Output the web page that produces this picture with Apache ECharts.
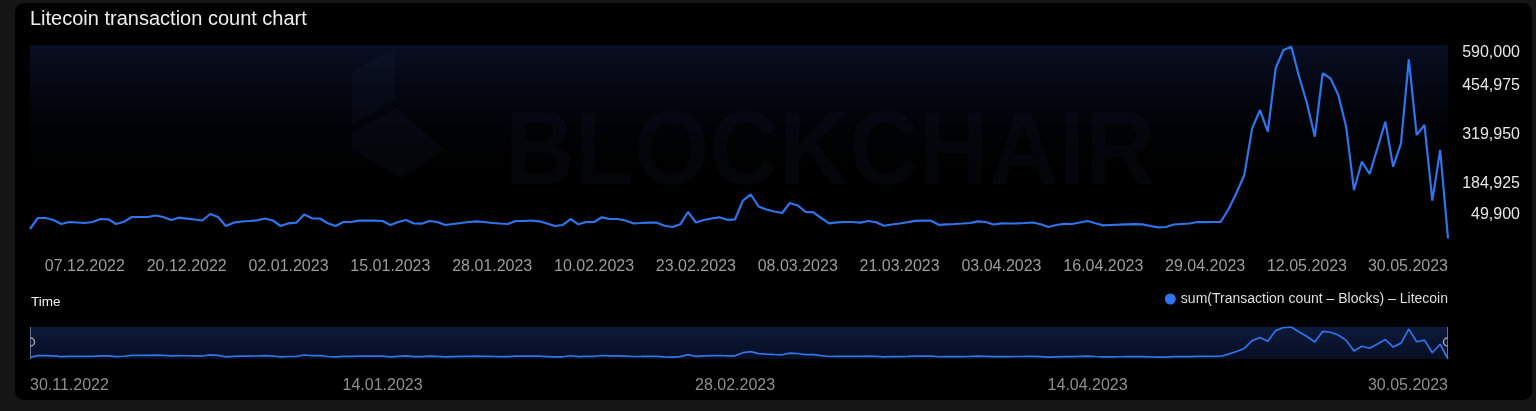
<!DOCTYPE html>
<html>
<head>
<meta charset="utf-8">
<script src="https://cdn.jsdelivr.net/npm/echarts@6.0.0/dist/echarts.min.js"></script>
<style>
html,body{margin:0;padding:0;background:#151515;width:1536px;height:411px;overflow:hidden}
#panel{position:absolute;left:15px;top:3px;width:1517px;height:397px;background:#000;border-radius:9px}
#chart{position:absolute;left:0;top:0;width:1536px;height:411px}
</style>
</head>
<body>
<div id="panel"></div>
<div id="chart"></div>
<script>
// ---- data ----
const startDate = '2022-11-30'; // first category (daily)
const seriesName = 'sum(Transaction count \u2013 Blocks) \u2013 Litecoin';
const txCounts = [
  58200, 88700, 88700, 83100, 72100, 77600, 76200, 74800, 77600, 85900,
  85100, 72100, 78400, 91400, 91400, 91400, 95600, 91400, 83100, 89500,
  86700, 84500, 81800, 99800, 91400, 66500, 75700, 79000, 80400, 82300,
  87300, 81800, 66500, 74000, 75700, 98400, 87800, 87300, 74000, 66500,
  77600, 77600, 81200, 81200, 81200, 80400, 69300, 77600, 83100, 73400,
  72900, 80400, 77600, 69300, 72100, 74800, 77600, 79500, 77600, 74800,
  73400, 72100, 80400, 80400, 81800, 79500, 73400, 66500, 69300, 85900,
  71200, 77600, 77600, 90600, 85900, 85900, 81800, 74000, 74800, 75700,
  75700, 67300, 63700, 71200, 105300, 76200, 83100, 87300, 90600, 83700,
  85100, 137100, 153800, 120500, 112200, 106700, 102500, 130200, 123300, 105800,
  104500, 88700, 74000, 76800, 77600, 77600, 75700, 80400, 76800, 67300,
  70700, 73400, 76800, 80600, 81200, 81200, 69800, 71200, 72100, 73400,
  74800, 79500, 77600, 70700, 74000, 73400, 74000, 74800, 76200, 71500,
  63700, 69300, 72600, 72100, 76200, 80400, 74000, 68200, 69300, 70100,
  71200, 71800, 71200, 66500, 62600, 63700, 70700, 72100, 73400, 77600,
  77000, 77600, 78200, 113600, 157900, 207800, 337100, 387800, 327700, 503300,
  554000, 563100, 480000, 406400, 313900, 489500, 475600, 429300, 341500, 166200,
  244600, 210500, 282600, 355400, 230800, 295600, 528200, 318600, 346300, 136600,
  277000, 32500
];
const yTicks = [49900, 184925, 319950, 454975, 590000];
const yTickLabels = ['49,900', '184,925', '319,950', '454,975', '590,000'];

// categories: one per day starting at startDate
function pad(n){return (n<10?'0':'')+n;}
const categories = [];
(function(){
  const d0 = new Date(startDate + 'T00:00:00Z');
  for (let i = 0; i < txCounts.length; i++) {
    const d = new Date(d0.getTime() + i * 86400000);
    categories.push(pad(d.getUTCDate()) + '.' + pad(d.getUTCMonth() + 1) + '.' + d.getUTCFullYear());
  }
})();

// ---- chart ----
const FONT = '"Liberation Sans", Arial, Helvetica, sans-serif';
const LINE = '#3074ec';
const last = txCounts.length - 1;
const chart = echarts.init(document.getElementById('chart'), null, {renderer: 'canvas'});

const option = {
  animation: false,
  backgroundColor: 'transparent',
  textStyle: {fontFamily: FONT},
  title: [
    {text: 'Litecoin transaction count chart', left: 30, top: 9, padding: 0,
     textStyle: {color: '#eeeeee', fontSize: 20, fontWeight: 'normal', fontFamily: FONT}},
    {text: 'Time', left: 31, top: 295, padding: 0,
     textStyle: {color: '#f2f2f2', fontSize: 13.5, fontWeight: 'normal', fontFamily: FONT}}
  ],
  legend: {
    right: 88, top: 292, padding: 0, icon: 'circle', itemWidth: 11, itemHeight: 11,
    data: [seriesName],
    textStyle: {color: '#dedede', fontSize: 14, fontFamily: FONT}
  },
  grid: [
    {left: 30, right: 88, top: 37, height: 195, containLabel: false, outerBoundsMode: 'none'},
    {left: 30, right: 88, top: 327, height: 32, containLabel: false, outerBoundsMode: 'none',
     show: true, borderWidth: 0,
     backgroundColor: new echarts.graphic.LinearGradient(0, 0, 0, 1, [
       {offset: 0, color: '#0d1a3b'}, {offset: 1, color: '#070e22'}])}
  ],
  xAxis: [
    {
      type: 'category', gridIndex: 0, data: categories, boundaryGap: false,
      axisLine: {show: false}, axisTick: {show: false}, splitLine: {show: false},
      axisLabel: {
        color: '#9c9c9c', fontSize: 16, fontFamily: FONT, margin: 27,
        interval: function (idx) { return (idx % 13 === 7 && idx <= last - 13) || idx === last; },
        alignMaxLabel: 'right'
      }
    },
    {
      type: 'category', gridIndex: 1, data: categories, boundaryGap: false,
      axisLine: {show: false}, axisTick: {show: false}, splitLine: {show: false},
      axisLabel: {
        color: '#8e8e8e', fontSize: 16, fontFamily: FONT, margin: 19,
        interval: function (idx) { return (idx % 45 === 0 && idx <= last - 45) || idx === last; },
        alignMinLabel: 'left', alignMaxLabel: 'right'
      }
    }
  ],
  yAxis: [
    {
      type: 'value', gridIndex: 0, position: 'right',
      min: yTicks[0], max: yTicks[yTicks.length - 1], interval: yTicks[1] - yTicks[0],
      axisLine: {show: false}, axisTick: {show: false}, splitLine: {show: false},
      axisLabel: {
        color: '#e6e6e6', fontSize: 16, fontFamily: FONT, align: 'right', margin: 72,
        formatter: function (v) {
          const i = yTicks.indexOf(v);
          const s = i >= 0 ? yTickLabels[i] : String(v);
          if (i === yTicks.length - 1) return '{top|' + s + '}';
          if (i === 0) return '{bot|' + s + '}';
          return s;
        },
        rich: {
          top: {padding: [32, 0, 0, 0], color: '#e6e6e6', fontSize: 16, fontFamily: FONT},
          bot: {padding: [0, 0, 34, 0], color: '#e6e6e6', fontSize: 16, fontFamily: FONT}
        }
      }
    },
    {
      type: 'value', gridIndex: 1, show: false,
      min: function (e) { return e.min; }, max: function (e) { return e.max; },
      splitLine: {show: false}
    }
  ],
  series: [
    {
      name: seriesName, type: 'line', xAxisIndex: 0, yAxisIndex: 0, data: txCounts,
      showSymbol: false, symbol: 'none', clip: false, z: 3,
      lineStyle: {color: LINE, width: 2.2}, itemStyle: {color: LINE}
    },
    {
      name: seriesName, type: 'line', xAxisIndex: 1, yAxisIndex: 1, data: txCounts,
      showSymbol: false, symbol: 'none', silent: true, z: 3,
      lineStyle: {color: LINE, width: 1.7}, itemStyle: {color: LINE}
    }
  ],
  graphic: [
    // plot background tint
    {type: 'rect', z: 0, silent: true, shape: {x: 30, y: 45, width: 1418, height: 195},
     style: {fill: new echarts.graphic.LinearGradient(0, 0, 0, 1, [
       {offset: 0, color: 'rgba(16,26,62,0.55)'},
       {offset: 0.35, color: 'rgba(10,16,42,0.25)'},
       {offset: 0.7, color: 'rgba(0,0,0,0)'}])}},
    // watermark
    {type: 'polygon', z: 1, silent: true,
     shape: {points: [[352, 72], [395, 47], [395, 100], [352, 125]]},
     style: {fill: 'rgba(40,56,96,0.10)'}},
    {type: 'polygon', z: 1, silent: true,
     shape: {points: [[352, 133], [396, 108], [445, 150], [401, 178], [352, 150]]},
     style: {fill: 'rgba(40,56,96,0.10)'}},
    {type: 'text', z: 1, silent: true, x: 505, y: 103, scaleX: 0.93,
     style: {text: 'BLOCKCHAIR', x: 0, y: 0, verticalAlign: 'top',
       font: 'bold 104px "Liberation Sans", Arial, sans-serif', fill: 'rgba(40,56,96,0.09)'}},
    // slider handles
    {type: 'line', z: 10, silent: true, shape: {x1: 30.5, y1: 327, x2: 30.5, y2: 359},
     style: {stroke: '#5f7196', lineWidth: 1}},
    {type: 'arc', z: 10, silent: true, shape: {cx: 30.5, cy: 342, r: 4, startAngle: -Math.PI / 2, endAngle: Math.PI / 2},
     style: {stroke: '#a0a6b2', lineWidth: 1.5, fill: null}},
    {type: 'line', z: 10, silent: true, shape: {x1: 1447.5, y1: 327, x2: 1447.5, y2: 359},
     style: {stroke: '#5f7196', lineWidth: 1}},
    {type: 'arc', z: 10, silent: true, shape: {cx: 1447.5, cy: 342, r: 4, startAngle: Math.PI / 2, endAngle: Math.PI * 3 / 2},
     style: {stroke: '#a0a6b2', lineWidth: 1.5, fill: null}}
  ]
};
chart.setOption(option);
</script>
</body>
</html>
